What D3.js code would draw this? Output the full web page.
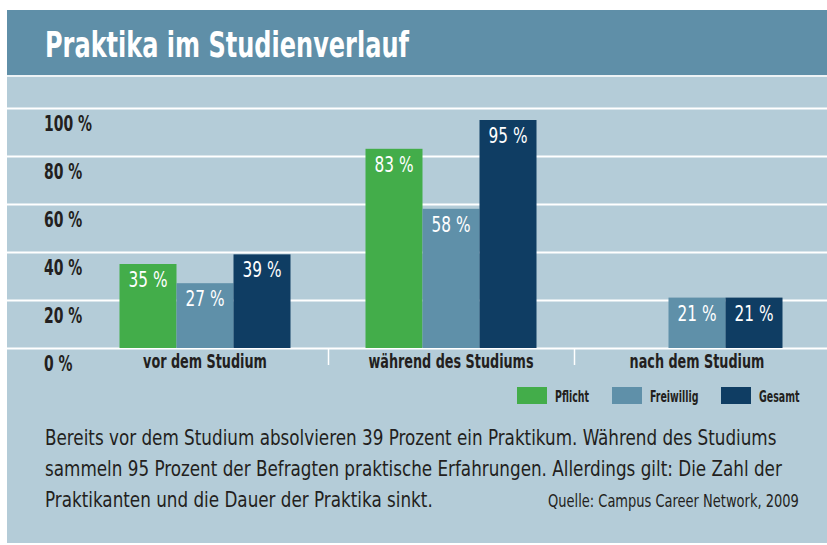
<!DOCTYPE html>
<html><head><meta charset="utf-8">
<script src="https://cdn.jsdelivr.net/npm/d3@7"></script>
<style>
html,body{margin:0;padding:0;background:#fff;}
svg{display:block;}
text{font-family:"DejaVu Sans Condensed","DejaVu Sans",sans-serif;}
</style></head>
<body><svg id="c" width="827" height="545"></svg>
<script>
const title = "Praktika im Studienverlauf";
const categories = ["vor dem Studium", "während des Studiums", "nach dem Studium"];
const seriesNames = ["Pflicht", "Freiwillig", "Gesamt"];
const seriesColors = ["#43ad4a", "#5f90a9", "#0f3d63"];
const pflicht = [35, 83, null];
const freiwillig = [27, 58, 21];
const gesamt = [39, 95, 21];
const yTicks = [0, 20, 40, 60, 80, 100];
const bodyLines = [
  "Bereits vor dem Studium absolvieren 39 Prozent ein Praktikum. Während des Studiums",
  "sammeln 95 Prozent der Befragten praktische Erfahrungen. Allerdings gilt: Die Zahl der",
  "Praktikanten und die Dauer der Praktika sinkt."
];
const source = "Quelle: Campus Career Network, 2009";

const svg = d3.select("#c");
const ink = "#231f20";

const meas = svg.append("text").attr("x",-1000).attr("y",-1000);
function natW(str, size, weight){
  meas.attr("font-size",size).attr("font-weight",weight||"normal").text(str);
  return meas.node().getComputedTextLength();
}
function ctext(parent, str, x, yb, size, weight, s, anchor, fill){
  return parent.append("text")
    .attr("transform",`translate(${x},${yb}) scale(${s},1)`)
    .attr("text-anchor",anchor||"start").attr("font-size",size)
    .attr("font-weight",weight||"normal").attr("fill",fill||ink).text(str);
}

// panel
svg.append("rect").attr("x",7).attr("y",10).attr("width",820).attr("height",533).attr("fill","#b4ccd8");
svg.append("rect").attr("x",7).attr("y",10).attr("width",820).attr("height",65).attr("fill","#5f8fa8");
svg.append("line").attr("x1",7).attr("x2",827).attr("y1",76).attr("y2",76).attr("stroke","#fff").attr("stroke-width",1.5);
const sTitle = 364/natW(title,36,"bold");
ctext(svg, title, 45, 57, 36, "bold", sTitle, "start", "#fff");

const y = d3.scaleLinear().domain([0,100]).range([348,108]);
const x0 = d3.scaleBand().domain(categories).range([82,820]);
const groupW = 171;
const x1 = d3.scaleBand().domain(seriesNames).range([0,groupW]);

// gridlines + y labels
const gAxis = svg.append("g").attr("transform","translate(7,0)")
  .call(d3.axisLeft(y).tickValues(yTicks).tickSize(-820).tickFormat(""));
gAxis.select(".domain").remove();
gAxis.selectAll(".tick line").attr("stroke","#fff").attr("stroke-width",2);
const sY = 48/natW("100 %",22,"bold");
yTicks.forEach(v=>ctext(svg, v+" %", 44, y(v)+23, 22, "bold", sY, "start"));

// category labels
const sCat = 124/natW(categories[0],19,"bold");
categories.forEach(c=>ctext(svg, c, x0(c)+x0.bandwidth()/2, 368, 19, "bold", sCat, "middle"));
svg.append("g").selectAll("line").data(categories.slice(1)).join("line")
  .attr("x1",d=>Math.round(x0(d))+0.5).attr("x2",d=>Math.round(x0(d))+0.5)
  .attr("y1",349).attr("y2",365).attr("stroke","#fff").attr("stroke-width",1.5);

// bars
const seriesData = [pflicht, freiwillig, gesamt];
const rows = [];
categories.forEach((c,i)=>seriesNames.forEach((s,j)=>{
  if (seriesData[j][i] != null) rows.push({cat:c, ser:s, val:seriesData[j][i], color:seriesColors[j]});
}));
const off = (x0.bandwidth()-groupW)/2;
const bars = svg.append("g");
bars.selectAll("rect").data(rows).join("rect")
  .attr("x",d=>x0(d.cat)+off+x1(d.ser)).attr("width",x1.bandwidth())
  .attr("y",d=>y(d.val)).attr("height",d=>y(0)-y(d.val)).attr("fill",d=>d.color);
const sVal = 39/natW("35 %",21,"normal");
rows.forEach(d=>ctext(bars, d.val+" %", x0(d.cat)+off+x1(d.ser)+x1.bandwidth()/2, y(d.val)+23, 21, "normal", sVal, "middle", "#fff"));

// legend
const legX = [517, 612, 721];
const leg = svg.append("g");
const sLeg = 34/natW("Pflicht",15,"bold");
seriesNames.forEach((s,j)=>{
  leg.append("rect").attr("x",legX[j]).attr("y",387).attr("width",30).attr("height",17).attr("fill",seriesColors[j]);
  ctext(leg, s, legX[j]+38, 402, 15, "bold", sLeg, "start");
});

// body text
const sBody = 732/natW(bodyLines[0],22,"normal");
bodyLines.forEach((t,i)=>ctext(svg, t, 45, 445+i*31, 22, "normal", sBody, "start"));
const sSrc = 251/natW(source,17,"normal");
ctext(svg, source, 548, 507, 17, "normal", sSrc, "start");
meas.remove();
</script></body></html>
